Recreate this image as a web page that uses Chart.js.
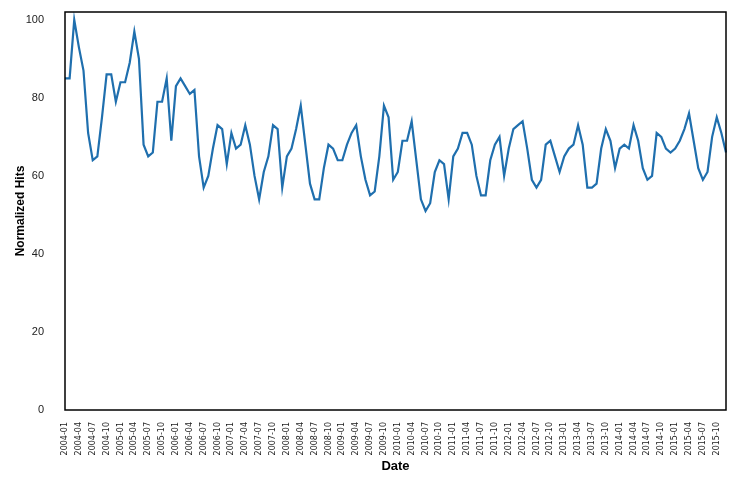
<!DOCTYPE html>
<html>
<head>
<meta charset="utf-8">
<script src="https://cdn.jsdelivr.net/npm/chart.js@4"></script>
<style>
  html, body { margin: 0; padding: 0; background: #fff; }
  #wrap { width: 733px; height: 478px; }
</style>
</head>
<body>
<div id="wrap"><canvas id="hits"></canvas></div>
<script>
// monthly, 2004-01 .. 2015-12
const startYear = 2004;
const endYear = 2015;
const yTicks = [0, 20, 40, 60, 80, 100];

const hits = [
  85, 85, 100, 93, 87, 71, 64, 65, 75, 86, 86, 79,
  84, 84, 89, 97, 90, 68, 65, 66, 79, 79, 85, 69,
  83, 85, 83, 81, 82, 65, 57, 60, 67, 73, 72, 63,
  71, 67, 68, 73, 68, 60, 54, 61, 65, 73, 72, 57,
  65, 67, 72, 78, 68, 58, 54, 54, 62, 68, 67, 64,
  64, 68, 71, 73, 65, 59, 55, 56, 65, 78, 75, 59,
  61, 69, 69, 74, 64, 54, 51, 53, 61, 64, 63, 54,
  65, 67, 71, 71, 68, 60, 55, 55, 64, 68, 70, 60,
  67, 72, 73, 74, 67, 59, 57, 59, 68, 69, 65, 61,
  65, 67, 68, 73, 68, 57, 57, 58, 67, 72, 69, 62,
  67, 68, 67, 73, 69, 62, 59, 60, 71, 70, 67, 66,
  67, 69, 72, 76, 69, 62, 59, 61, 70, 75, 71, 66
];

const months = [];
for (let y = startYear; y <= endYear; y++) {
  for (let m = 1; m <= 12; m++) {
    months.push(y + "-" + String(m).padStart(2, "0"));
  }
}

const framePlugin = {
  id: "frame",
  afterDraw(chart) {
    const { ctx, chartArea: a } = chart;
    ctx.save();
    ctx.strokeStyle = "#000";
    ctx.lineWidth = 1.5;
    ctx.strokeRect(a.left, a.top, a.right - a.left, a.bottom - a.top);
    ctx.restore();
  }
};

new Chart(document.getElementById("hits"), {
  type: "line",
  data: {
    labels: months,
    datasets: [{
      data: hits,
      borderColor: "#1f6fae",
      borderWidth: 2.2,
      pointRadius: 0,
      tension: 0,
      fill: false
    }]
  },
  options: {
    responsive: true,
    maintainAspectRatio: false,
    animation: false,
    layout: { padding: { top: 12, right: 7, left: 13, bottom: 0 } },
    plugins: {
      legend: { display: false },
      tooltip: { enabled: false }
    },
    scales: {
      x: {
        offset: false,
        grid: { display: false },
        border: { display: false },
        ticks: {
          autoSkip: false,
          maxRotation: 90,
          minRotation: 90,
          padding: 4,
          color: "#222",
          font: { family: "DejaVu Sans", size: 8 },
          callback: (v, i) => (i % 3 === 0 ? months[i] : null)
        },
        title: {
          display: true,
          text: "Date",
          color: "#000",
          font: { family: "Liberation Sans", size: 13, weight: "bold" },
          padding: { top: 0, bottom: 4 }
        },
        afterFit: (s) => {
          s.height = 68;
          s.paddingLeft = 0;
          s.paddingRight = 0;
        }
      },
      y: {
        min: 0,
        max: 102,
        grid: { display: false },
        border: { display: false },
        afterBuildTicks: (s) => {
          s.ticks = yTicks.map(v => ({ value: v }));
        },
        ticks: {
          padding: 13,
          color: "#222",
          font: { family: "Liberation Sans", size: 11 }
        },
        title: {
          display: true,
          text: "Normalized Hits",
          color: "#000",
          font: { family: "Liberation Sans", size: 12, weight: "bold" },
          padding: { top: 0, bottom: 4 }
        },
        afterFit: (s) => {
          s.width = 52;
          s.paddingTop = 0;
          s.paddingBottom = 0;
        }
      }
    }
  },
  plugins: [framePlugin]
});
</script>
</body>
</html>
